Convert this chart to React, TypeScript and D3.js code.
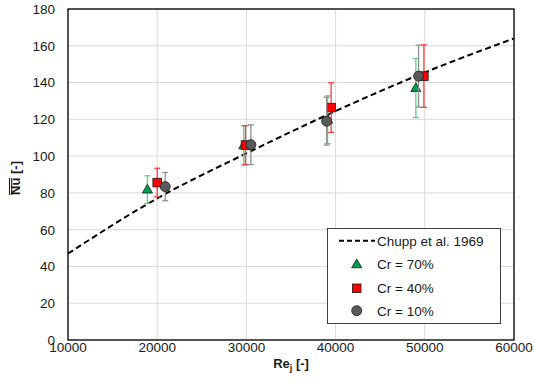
import React from "react";
import * as d3 from "d3";

// Axis ticks
const xTicks = [10000, 20000, 30000, 40000, 50000, 60000];
const yTicks = [0, 20, 40, 60, 80, 100, 120, 140, 160, 180];

// Chupp et al. 1969 correlation, sampled points
const chuppRe = [10000, 20000, 30000, 40000, 50000, 60000];
const chuppNu = [47, 77, 101.5, 124.5, 145.5, 164];

// Cr = 70%
const cr70Re = [18900, 29700, 39100, 49000];
const cr70Nu = [81.8, 105.8, 119.8, 137];
const cr70Err = [7.5, 10.7, 13, 16];

// Cr = 40%
const cr40Re = [20000, 29900, 39500, 49900];
const cr40Nu = [85.6, 106, 126.4, 143.5];
const cr40Err = [7.8, 10.6, 13.5, 17];

// Cr = 10%
const cr10Re = [20900, 30500, 39000, 49300];
const cr10Nu = [83.4, 106.2, 119, 143.5];
const cr10Err = [7.7, 10.8, 13, 16.8];

const W = 535;
const H = 390;
const M = { left: 68, right: 21, top: 9, bottom: 50 };
const FONT = "'Liberation Sans', Arial, sans-serif";

export default function App() {
  const x = d3.scaleLinear().domain([10000, 60000]).range([M.left, W - M.right]);
  const y = d3.scaleLinear().domain([0, 180]).range([H - M.bottom, M.top]);

  const chuppLine = d3
    .line<number>()
    .x((_, i) => x(chuppRe[i]))
    .y((d) => y(d))
    .curve(d3.curveMonotoneX)(chuppNu) as string;

  const triPath = d3.symbol(d3.symbolTriangle, 44)() as string;

  const series = [
    { re: cr70Re, nu: cr70Nu, err: cr70Err, fill: "#00a050", bar: "#5ccf8c", shape: "tri" },
    { re: cr40Re, nu: cr40Nu, err: cr40Err, fill: "#ff0000", bar: "#ff3b3b", shape: "sq" },
    { re: cr10Re, nu: cr10Nu, err: cr10Err, fill: "#595959", bar: "#8f8f8f", shape: "circ" },
  ];

  const marker = (shape: string, fill: string, cx: number, cy: number, key?: string) => {
    if (shape === "tri")
      return (
        <path key={key} d={triPath} transform={`translate(${cx},${cy + 0.5})`} fill={fill} stroke="#1a1a1a" strokeWidth={0.8} />
      );
    if (shape === "sq")
      return <rect key={key} x={cx - 4.3} y={cy - 4.3} width={8.6} height={8.6} fill={fill} stroke="#1a1a1a" strokeWidth={0.8} />;
    return <circle key={key} cx={cx} cy={cy} r={5} fill={fill} stroke="#1a1a1a" strokeWidth={0.8} />;
  };

  const x0 = M.left;
  const x1 = W - M.right;
  const y0 = H - M.bottom;
  const y1 = M.top;

  const legend = { x: 327.5, y: 228.5, w: 173, h: 95 };
  const legendRows = [240.7, 264.3, 288.3, 310.7];

  return (
    <svg width={W} height={H} style={{ position: "absolute", left: 0, top: 0, background: "#fff" }} fontFamily={FONT}>
      {/* gridlines */}
      {yTicks.map((t) => (
        <line key={"gy" + t} x1={x0} x2={x1} y1={y(t)} y2={y(t)} stroke="#d9d9d9" strokeWidth={1} />
      ))}
      {xTicks.map((t) => (
        <line key={"gx" + t} x1={x(t)} x2={x(t)} y1={y0} y2={y1} stroke="#d9d9d9" strokeWidth={1} />
      ))}

      {/* frame */}
      <rect x={x0} y={y1} width={x1 - x0} height={y0 - y1} fill="none" stroke="#000" strokeWidth={1.3} />

      {/* tick labels */}
      {yTicks.map((t) => (
        <text key={"ty" + t} x={x0 - 13} y={y(t)} dy="0.36em" textAnchor="end" fontSize={13.5} fill="#1a1a1a">
          {t}
        </text>
      ))}
      {xTicks.map((t) => (
        <text key={"tx" + t} x={x(t)} y={352} textAnchor="middle" fontSize={13.5} fill="#1a1a1a">
          {t}
        </text>
      ))}

      {/* axis titles */}
      <text x={(x0 + x1) / 2} y={368} textAnchor="middle" fontSize={13} fontWeight="bold" fill="#1a1a1a">
        Re<tspan fontSize={9} dy={3}>j</tspan>
        <tspan dy={-3}> [-]</tspan>
      </text>
      <g transform={`translate(20,178) rotate(-90)`}>
        <text x={0} y={0} textAnchor="middle" fontSize={13} fontWeight="bold" fill="#1a1a1a">
          Nu [-]
        </text>
        <line x1={-17} x2={0} y1={-10.5} y2={-10.5} stroke="#1a1a1a" strokeWidth={1.1} />
        <line x1={-17} x2={0} y1={-8.3} y2={-8.3} stroke="#1a1a1a" strokeWidth={1.1} />
      </g>

      {/* correlation */}
      <path d={chuppLine} fill="none" stroke="#000" strokeWidth={2} strokeDasharray="6,3.5" />

      {/* error bars and markers */}
      {series.map((s, si) => (
        <g key={"s" + si}>
          {s.re.map((r, i) => {
            const cx = x(r);
            const top = y(s.nu[i] + s.err[i]);
            const bot = y(s.nu[i] - s.err[i]);
            return (
              <g key={i} stroke={s.bar} strokeWidth={1.3}>
                <line x1={cx} x2={cx} y1={top} y2={bot} />
                <line x1={cx - 3} x2={cx + 3} y1={top} y2={top} />
                <line x1={cx - 3} x2={cx + 3} y1={bot} y2={bot} />
              </g>
            );
          })}
          {s.re.map((r, i) => marker(s.shape, s.fill, x(r), y(s.nu[i]), "m" + i))}
        </g>
      ))}

      {/* legend */}
      <rect x={legend.x} y={legend.y} width={legend.w} height={legend.h} fill="#fff" stroke="#404040" strokeWidth={1} />
      <line x1={339} x2={375} y1={legendRows[0]} y2={legendRows[0]} stroke="#000" strokeWidth={2} strokeDasharray="5,3" />
      <text x={377} y={legendRows[0]} dy="0.36em" fontSize={13.5} fill="#1a1a1a">
        Chupp et al. 1969
      </text>
      {series.map((s, i) => (
        <g key={"lg" + i}>
          {marker(s.shape, s.fill, 356.7, legendRows[i + 1])}
          <text x={377} y={legendRows[i + 1]} dy="0.36em" fontSize={13.5} fill="#1a1a1a">
            {["Cr = 70%", "Cr = 40%", "Cr = 10%"][i]}
          </text>
        </g>
      ))}
    </svg>
  );
}
